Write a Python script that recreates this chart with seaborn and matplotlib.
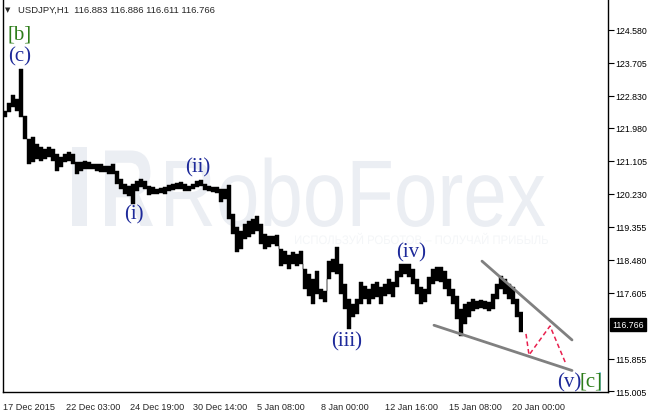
import numpy as np
import pandas as pd
import matplotlib
matplotlib.use("Agg")
import matplotlib.pyplot as plt
import seaborn as sns
from matplotlib.textpath import TextPath
from matplotlib.patches import PathPatch, Rectangle
from matplotlib.transforms import Affine2D, blended_transform_factory
from matplotlib.font_manager import FontProperties

# ---------------- data (USDJPY H1, high/low per 4-bar block) ----------------
high = [122.43, 122.64, 122.86, 122.75, 123.55, 122.30, 121.69, 121.74, 121.56, 121.48,
        121.42, 121.48, 121.42, 121.29, 121.21, 121.29, 121.34, 121.29, 121.08, 121.08,
        121.10, 121.08, 121.03, 121.03, 121.03, 120.97, 120.97, 121.03, 120.84, 120.63,
        120.49, 120.44, 120.49, 120.57, 120.63, 120.57, 120.44, 120.42, 120.36, 120.39,
        120.42, 120.47, 120.49, 120.52, 120.55, 120.49, 120.44, 120.49, 120.57, 120.60,
        120.49, 120.44, 120.42, 120.42, 120.36, 120.36, 120.47, 119.70, 119.35, 119.25,
        119.43, 119.51, 119.57, 119.65, 119.43, 119.17, 119.12, 119.12, 119.14, 118.77,
        118.72, 118.61, 118.69, 118.64, 118.72, 118.24, 118.11, 117.97, 118.19, 117.71,
        117.66, 118.45, 118.50, 118.82, 118.37, 117.84, 117.44, 117.31, 117.44, 117.89,
        117.79, 117.71, 117.84, 117.89, 117.76, 117.84, 117.97, 117.89, 118.19, 118.37,
        118.37, 118.37, 118.24, 117.97, 117.76, 117.71, 118.03, 118.24, 118.29, 118.29,
        118.19, 117.97, 117.71, 117.52, 117.18, 117.31, 117.36, 117.44, 117.39, 117.42,
        117.39, 117.36, 117.58, 117.84, 118.05, 117.97, 117.84, 117.76, 117.44, 117.10]
low = [122.27, 122.40, 122.54, 122.43, 122.27, 121.69, 121.03, 121.08, 121.16, 121.10,
       121.16, 121.21, 121.10, 120.84, 120.95, 121.08, 121.10, 121.03, 120.76, 120.84,
       120.89, 120.89, 120.89, 120.84, 120.81, 120.81, 120.76, 120.76, 120.49, 120.36,
       120.23, 120.18, 119.96, 120.31, 120.42, 120.36, 120.20, 120.23, 120.23, 120.26,
       120.23, 120.31, 120.34, 120.36, 120.36, 120.31, 120.31, 120.36, 120.42, 120.44,
       120.34, 120.31, 120.28, 120.26, 120.02, 120.10, 119.57, 119.17, 118.69, 118.77,
       119.04, 119.09, 119.17, 119.25, 118.90, 118.77, 118.82, 118.90, 118.85, 118.32,
       118.37, 118.24, 118.37, 118.32, 118.37, 117.71, 117.52, 117.31, 117.58, 117.44,
       117.36, 117.97, 118.16, 118.11, 117.58, 117.18, 116.65, 116.97, 117.05, 117.31,
       117.44, 117.31, 117.44, 117.50, 117.31, 117.52, 117.58, 117.50, 117.76, 118.03,
       118.11, 118.03, 117.84, 117.58, 117.31, 117.36, 117.58, 117.84, 117.92, 117.89,
       117.71, 117.52, 117.31, 116.91, 116.46, 116.78, 116.97, 117.13, 117.18, 117.20,
       117.18, 117.13, 117.18, 117.44, 117.71, 117.58, 117.44, 117.31, 116.97, 116.57]
block = 4

# projection (red dashed) and channel lines (bar index, price)
proj_bar = [523, 526, 547, 563]
proj_price = [116.52, 115.96, 116.73, 115.72]
upper_bar = [479, 569]
upper_price = [118.45, 116.36]
lower_bar = [431, 569]
lower_price = [116.75, 115.55]

# wave labels
waves = [("[b]", 17, 124.47, "g"), ("(c)", 17, 123.89, "b"), ("(i)", 131, 119.70, "b"),
         ("(ii)", 195, 120.95, "b"), ("(iii)", 344, 116.33, "b"), ("(iv)", 408, 118.69, "b"),
         ("(v)", 566, 115.24, "b"), ("[c]", 588, 115.27, "g")]

yticks = [124.580, 123.705, 122.830, 121.980, 121.105, 120.230, 119.355, 118.480,
          117.605, 115.855, 115.005]
last_price = 116.766
xtick_bars = [0, 63, 127, 190, 254, 318, 382, 446, 509]
xtick_labels = ["17 Dec 2015", "22 Dec 03:00", "24 Dec 19:00", "30 Dec 14:00", "5 Jan 08:00",
                "8 Jan 00:00", "12 Jan 16:00", "15 Jan 08:00", "20 Jan 00:00"]
header = "USDJPY,H1  116.883 116.886 116.611 116.766"

# ---------------- figure ----------------
sns.set_style("white")
plt.rcParams["font.family"] = ["Liberation Sans", "DejaVu Sans"]

W, H = 649, 414
fig = plt.figure(figsize=(W / 100, H / 100), dpi=100)
ax = fig.add_axes([3 / W, 21 / H, 605 / W, 393 / H])
ax.set_xlim(0, 605)
ax.set_ylim(114.98, 125.40)
ax.set_facecolor("white")

# pixel transform (origin top-left) -> display
pix = Affine2D().scale(1, -1).translate(0, H)

# watermark
wm_color = "#ebeef3"
ax.add_patch(Rectangle((72, 148), 15, 79, transform=pix, color=wm_color, zorder=0, lw=0))

def fit_text(s, x0, x1, ytop, ybase, color, fam="Liberation Sans", ref=0.73, weight="normal"):
    tp = TextPath((0, 0), s, size=1, prop=FontProperties(family=fam, weight=weight))
    ext = tp.get_extents()
    sx = (x1 - x0) / ext.width
    sy = (ybase - ytop) / ref
    tr = Affine2D().translate(-ext.x0, 0).scale(sx, sy).translate(x0, H - ybase)
    ax.add_patch(PathPatch(tp, transform=tr, color=color, lw=0, zorder=0))

fit_text("R", 105, 153, 148, 227, wm_color, weight="bold", ref=0.72)
fit_text("RoboForex", 166, 545, 158, 227, wm_color)
fit_text("ИСПОЛЬЗУЙ РОБОТОВ – ПОЛУЧАЙ ПРИБЫЛЬ", 295, 548, 236, 245, "#f4f6f8")

# price bars (high/low range of each block of hourly bars)
n = len(high)
df = pd.DataFrame({"bar": np.arange(n + 1) * block,
                   "high": high + [high[-1]], "low": low + [low[-1]]})
ax.fill_between(df["bar"], df["low"], df["high"], step="post", color="black", lw=0, zorder=3)
sns.lineplot(data=df, x="bar", y="high", drawstyle="steps-post", color="black", lw=0.3, ax=ax, zorder=3)
sns.lineplot(data=df, x="bar", y="low", drawstyle="steps-post", color="black", lw=0.3, ax=ax, zorder=3)

# channel lines
sns.lineplot(x=upper_bar, y=upper_price, color="#808080", lw=2, ax=ax, zorder=4)
sns.lineplot(x=lower_bar, y=lower_price, color="#808080", lw=2, ax=ax, zorder=4)
# projection
ax.plot(proj_bar, proj_price, color="#e8204e", lw=1.1, ls=(0, (3, 2)), zorder=5)

# small blue marker line at right bottom
ax.add_patch(Rectangle((599, 373), 1.5, 19, transform=pix, color="#8fd3f7", lw=0, zorder=2))

# wave labels
colors = {"b": "#1e2a9a", "g": "#2e7d1a"}
for t, xb, yp, c in waves:
    ax.text(xb, yp, t, ha="center", va="center", fontsize=15, color=colors[c],
            family="Liberation Serif", zorder=6)

# axes styling
for s in ["left", "right", "bottom"]:
    ax.spines[s].set_visible(True)
    ax.spines[s].set_color("black")
    ax.spines[s].set_linewidth(1)
ax.spines["top"].set_visible(False)
ax.set_xlabel("")
ax.set_ylabel("")
ax.yaxis.tick_right()
ax.set_yticks(yticks)
ax.set_yticklabels([f"{v:.3f}" for v in yticks])
ax.tick_params(axis="y", direction="out", length=4, width=0.8, pad=1.5, labelsize=6.3,
               colors="black", left=False, right=True)
ax.set_xticks(xtick_bars)
ax.set_xticklabels(xtick_labels)
ax.tick_params(axis="x", direction="out", length=4, width=0.8, pad=3, labelsize=6.6)
for lab in ax.get_xticklabels():
    lab.set_horizontalalignment("left")

# current price box
bt = blended_transform_factory(ax.transAxes, ax.transData)
ax.text(1.0 + 4 / 605, last_price, f"{last_price:.3f}", transform=bt, ha="left", va="center",
        fontsize=6.3, color="white",
        bbox=dict(facecolor="black", edgecolor="black", boxstyle="square,pad=0.25"), zorder=7)

# header
fig.text(5 / W, 1 - 10 / H, "▼", fontsize=5, family="DejaVu Sans", va="center", ha="left")
fig.text(18 / W, 1 - 10 / H, header, fontsize=6.8, va="center", ha="left")

fig.savefig("out.png", dpi=100)
